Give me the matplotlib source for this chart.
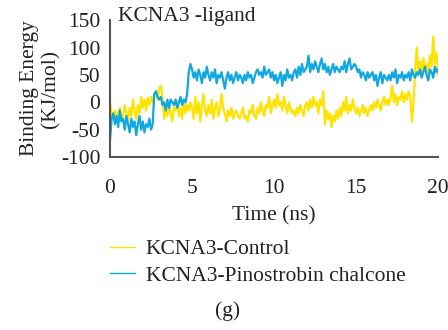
import numpy as np
import matplotlib
matplotlib.use("Agg")
from matplotlib import pyplot as plt

# time axis, 0.1 ns steps
time_ns = np.round(np.arange(0, 20.05, 0.1), 1)

# KCNA3-Control binding energy (KJ/mol)
control = [
    0, -20, -30, -15, -35, -20, -10, -30, -25, -5,
    -20, -35, -10, -25, 5, -15, -30, -5, -20, 10,
    -10, 5, -15, 8, -5, 10, 0, 15, 20, 5,
    25, 30, 10, -30, -10, -25, -5, -20, -35, -10,
    -15, 0, -25, -10, -30, 5, -20, -5, -15, 0,
    -10, -30, 10, -20, 0, -35, -5, 15, -15, -25,
    -5, -20, 5, -30, -10, 0, -25, -15, 15, -10,
    -20, -35, -15, -25, -10, -30, -20, -15, -25, -30,
    -20, -10, -30, -25, -35, -15, -20, -5, -25, -30,
    -10, -20, 0, -15, -25, -5, -10, 10, -20, -5,
    5, -10, 15, -5, 0, -15, 10, -5, -20, 0,
    -10, -20, -15, -25, -10, -20, -5, -15, -25, -5,
    0, -15, 5, -10, 10, -5, 0, -20, 5, -5,
    20, -40, -15, -30, -20, -45, -25, -35, -15, -30,
    -10, -25, 0, -15, 10, -20, -5, -15, 5, -10,
    -20, -10, -25, -15, -5, -20, -10, -25, -15, -5,
    -15, 0, -10, 5, -5, -15, 0, 10, -5, 5,
    -5, 10, 30, 0, 15, -5, 10, 5, 20, 0,
    15, 5, 20, 10, -35, 0, 60, 100, 55, 75,
    50, 80, 60, 70, 55, 85, 65, 120, 70, 90,
    50,
]

# KCNA3-Pinostrobin chalcone binding energy (KJ/mol)
pino = [
    -70, -30, -20, -40, -25, -45, -15, -35, -30, -50,
    -25, -40, -55, -30, -45, -35, -60, -40, -25, -50,
    -35, -55, -40, -45, -30, -50, -40, 15, 20, 10,
    5, 10, -5, 0, -15, 5, -10, 5, 0, -5,
    5, -10, 0, 10, -5, 5, 0, 15, 55, 70,
    60, 45, 55, 40, 60, 50, 35, 55, 45, 65,
    50, 40, 55, 45, 60, 35, 50, 45, 55, 40,
    25, 45, 55, 40, 50, 35, 45, 55, 40, 50,
    45, 35, 50, 40, 55, 45, 50, 35, 45, 55,
    60, 50, 55, 45, 65, 50, 55, 60, 45, 55,
    40, 50, 35, 45, 55, 30, 50, 40, 60, 45,
    50, 40, 55, 60, 45, 65, 50, 70, 55, 60,
    65, 85, 55, 70, 60, 75, 65, 55, 70, 80,
    60, 70, 55, 65, 50, 60, 70, 55, 65, 60,
    55, 65, 60, 75, 55, 70, 80, 60, 65, 70,
    65, 55, 60, 45, 55, 50, 40, 55, 45, 50,
    55, 40, 50, 30, 45, 55, 35, 50, 45, 40,
    50, 40, 55, 45, 60, 35, 50, 45, 55, 40,
    50, 45, 55, 40, 60, 50, 45, 55, 50, 60,
    45, 55, 65, 50, 40, 60, 55, 45, 65, 55,
    60,
]

x_ticks = [0, 5, 10, 15, 20]
y_ticks = [-100, -50, 0, 50, 100, 150]

plt.rcParams['font.family'] = ['Liberation Serif', 'DejaVu Serif']
plt.rcParams['font.size'] = 15.5
plt.rcParams['axes.unicode_minus'] = False

fig = plt.figure(figsize=(4.48, 3.3), dpi=100)
ax = fig.add_axes([0.2455, 0.524, 0.7325, 0.415])

ax.plot(time_ns, control, color="#FFE300", lw=1.6, label="KCNA3-Control")
ax.plot(time_ns, pino, color="#10A8E0", lw=1.6, label="KCNA3-Pinostrobin chalcone")

ax.set_xlim(0, 20)
ax.set_ylim(-100, 150)
ax.set_xticks(x_ticks)
ax.set_yticks(y_ticks)
ax.tick_params(length=0, labelcolor="#222222")
ax.tick_params(axis="x", pad=16)
ax.tick_params(axis="y", pad=7)
for s in ["top", "right"]:
    ax.spines[s].set_visible(False)
for s in ["left", "bottom"]:
    ax.spines[s].set_color("#555555")
    ax.spines[s].set_linewidth(1.5)

ax.set_xlabel("Time (ns)", color="#222222", labelpad=6)
ax.set_ylabel("Binding Energy\n(KJ/mol)", color="#222222", labelpad=0, linespacing=1.2)
fig.text(118 / 448, 1 - 17 / 330, "KCNA3 -ligand", va="center", ha="left", color="#222222")

leg = fig.legend(loc="upper left", bbox_to_anchor=(110 / 448, 1 - 239 / 330), frameon=False,
                 handlelength=1.16, handletextpad=0.5, labelspacing=0.3, borderaxespad=0,
                 borderpad=0, labelcolor="#222222")
for ln in leg.get_lines():
    ln.set_linewidth(1.0)
fig.text(228 / 448, 1 - 311 / 330, "(g)", ha="center", va="center", color="#222222")

fig.savefig("out.png", dpi=100)
